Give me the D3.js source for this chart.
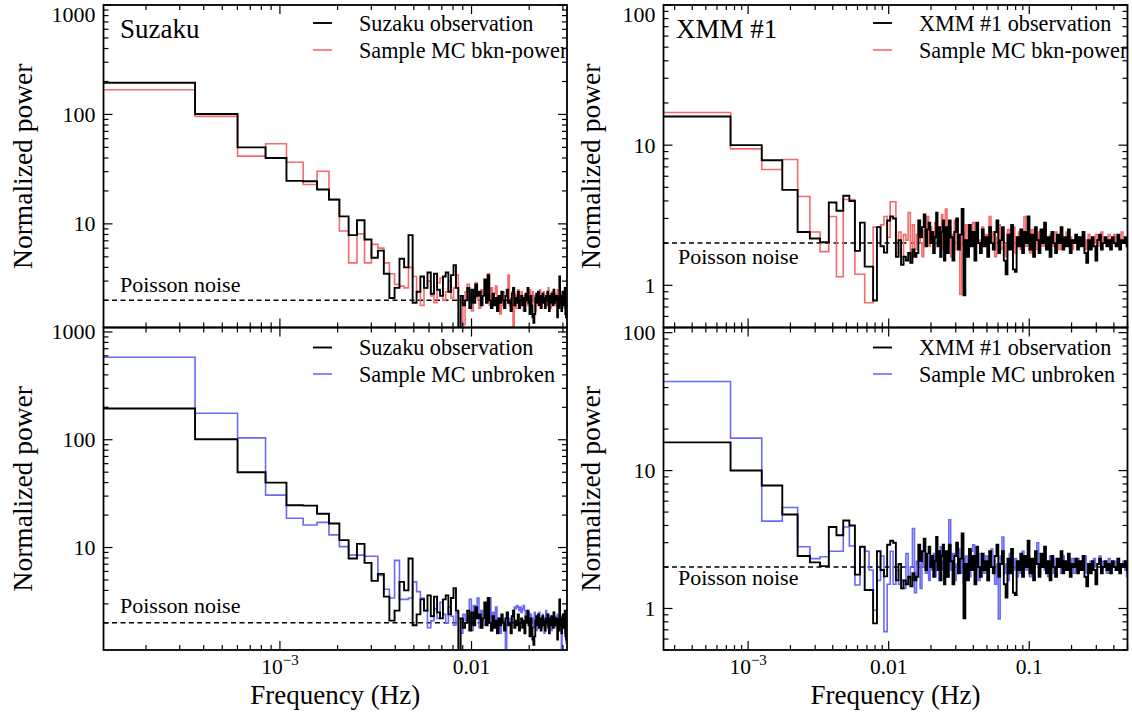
<!DOCTYPE html>
<html lang="en">
<head>
<meta charset="UTF-8">
<title>Power spectra: Suzaku and XMM #1</title>
<script src="https://d3js.org/d3.v7.min.js"></script>
<style>
  body { margin: 0; background: #fff; }
  svg text { font-family: "Liberation Serif", "Times New Roman", Tinos, "DejaVu Serif", "Noto Serif", serif; fill: #000; }
</style>
</head>
<body>
<svg width="1132" height="713" font-family="Liberation Serif, DejaVu Serif, serif"></svg>
<script>
// ---- data ----
// Suzaku: 130 Fourier frequencies k*df up to Nyquist (16 s bins)
const suzakuDf = 0.03125 / 130;
const suzakuFreq = d3.range(1, 131).map(k => k * suzakuDf);

const suzakuObs = [
  195, 101, 50, 40, 24.7, 24.5, 20.6, 16.7, 11.7, 7.9,
  10.8, 7.2, 4.9, 5.7, 3.5, 2.1, 2.6, 4.8, 4.0, 7.9,
  1.9, 2.4, 3.3, 2.6, 3.6, 2.3, 3.5, 2.5, 2.2, 3.3,
  3.6, 2.4, 3.4, 4.2, 2.6, 0.9, 2.2, 1.8, 2.0, 2.6,
  1.7, 2.5, 1.9, 2.8, 2.2, 2.4, 1.8, 2.2, 3.1, 1.9,
  3.4, 2.0, 1.7, 2.3, 1.8, 2.1, 1.6, 2.2, 1.9, 2.4,
  2.0, 1.7, 2.2, 2.5, 1.9, 2.0, 1.6, 2.3, 2.6, 1.8,
  2.1, 1.9, 2.4, 1.7, 2.0, 2.2, 1.8, 2.1, 1.6, 2.3,
  2.0, 2.6, 1.9, 1.5, 2.2, 1.8, 1.4, 1.25, 1.5, 2.1,
  2.3, 1.9, 2.4, 1.8, 2.2, 1.7, 2.0, 2.3, 1.9, 2.1,
  1.7, 2.2, 2.0, 2.4, 1.8, 1.6, 2.2, 1.9, 2.3, 2.1,
  1.8, 2.5, 1.9, 2.2, 2.0, 2.2, 1.4, 2.1, 1.7, 3.3,
  1.9, 2.2, 1.6, 2.0, 2.4, 1.8, 2.1, 2.6, 1.5, 1.4
];
const suzakuBkn = [
  168, 96, 41.6, 54, 36.6, 22.9, 30.3, 16.5, 8.6, 4.4,
  8.1, 4.4, 6.5, 6.0, 4.4, 3.5, 2.8, 2.7, 2.6, 4.0,
  3.3, 2.4, 1.8, 2.6, 3.0, 2.2, 1.9, 2.9, 3.2, 2.0,
  2.4, 3.0, 2.1, 2.6, 3.4, 2.0, 1.9, 1.2, 2.4, 2.8,
  2.2, 1.6, 2.4, 2.9, 2.1, 1.7, 2.5, 2.3, 2.4, 2.0,
  3.5, 1.8, 2.6, 1.9, 2.3, 2.7, 1.7, 2.0, 1.5, 1.8,
  2.4, 1.9, 2.2, 2.2, 3.4, 1.8, 2.1, 2.4, 1.0, 2.3,
  1.7, 2.2, 2.5, 2.0, 1.8, 2.4, 2.1, 1.6, 2.2, 1.9,
  2.3, 1.8, 2.0, 2.5, 1.7, 2.1, 2.4, 1.9, 2.2, 1.6,
  2.0, 2.3, 1.8, 2.1, 2.5, 2.0, 1.7, 2.2, 2.4, 1.9,
  2.1, 1.8, 2.3, 2.0, 2.6, 1.9, 2.2, 1.7, 2.0, 2.4,
  1.9, 2.2, 2.0, 1.8, 2.3, 2.1, 2.5, 1.9, 2.0, 2.2,
  1.8, 2.1, 2.4, 1.9, 2.2, 2.0, 1.7, 2.3, 2.1, 1.9
];
const suzakuUnb = [
  582, 176, 104, 30.6, 18.7, 16.2, 17.1, 13.1, 10.2, 8.5,
  8.5, 8.3, 8.3, 5.5, 4.1, 3.4, 7.6, 3.3, 3.3, 3.4,
  4.8, 3.9, 3.4, 2.6, 1.8, 2.1, 2.7, 2.2, 3.1, 2.4,
  2.0, 2.8, 2.3, 1.9, 2.5, 2.2, 1.6, 2.4, 2.1, 2.0,
  3.3, 1.7, 2.9, 2.2, 3.4, 1.8, 2.6, 2.1, 1.9, 2.7,
  2.3, 3.4, 1.7, 2.5, 2.0, 2.8, 1.8, 2.2, 1.6, 2.2,
  2.1, 1.8, 1.05, 2.4, 2.0, 2.2, 2.0, 2.3, 2.6, 2.8,
  2.7, 2.9, 2.8, 2.6, 2.8, 2.5, 2.7, 2.9, 2.6, 2.4,
  2.6, 2.3, 2.5, 2.1, 2.4, 2.0, 2.2, 1.8, 2.5, 2.1,
  1.7, 2.3, 2.0, 2.5, 1.9, 2.2, 1.8, 2.4, 2.0, 1.6,
  2.2, 2.6, 1.9, 2.1, 2.4, 1.8, 2.0, 2.3, 1.7, 2.2,
  2.0, 2.5, 1.8, 2.1, 2.3, 1.9, 2.4, 2.0, 1.7, 2.2,
  1.9, 2.3, 1.05, 1.8, 2.1, 2.4, 1.9, 1.6, 2.3, 1.3
];

// XMM #1: first 50 Fourier frequencies (df = 5e-4 Hz) one by one,
// above that the values are read at a pixel-sized log grid up to 0.5 Hz
const xmmDf = 0.0005;
const xmmLowFreq = d3.range(1, 51).map(k => k * xmmDf);
const xmmHighFreq = d3.range(100).map(i => 0.0256 * Math.pow(0.5 / 0.0256, i / 99));
const xmmFreq = xmmLowFreq.concat(xmmHighFreq);

const xmmObsLow = [
  16.0, 10.0, 7.8, 4.8, 2.4, 2.16, 2.03, 3.9, 3.4, 4.35,
  4.0, 1.76, 2.8, 1.36, 1.36, 0.78, 2.6, 1.9, 1.71, 2.9,
  3.1, 3.0, 1.6, 2.1, 1.4, 1.6, 1.5, 1.7, 1.45, 1.8,
  1.6, 1.7, 2.9, 2.2, 2.6, 3.2, 1.9, 2.5, 2.8, 2.0,
  2.4, 1.7, 2.2, 3.3, 1.9, 2.6, 1.6, 2.4, 2.9, 1.5
];
const xmmObsHigh = [
  2.6, 1.7, 2.9, 2.2, 1.5, 2.4, 3.0, 1.8, 2.3, 3.5,
  0.85, 2.1, 1.6, 2.7, 1.9, 2.4, 1.5, 2.8, 2.0, 1.7,
  2.5, 1.9, 2.2, 1.6, 2.6, 2.0, 1.8, 2.4, 2.9, 1.7,
  2.1, 2.6, 1.5, 1.2, 2.3, 1.8, 2.7, 1.3, 1.25, 2.2,
  1.9, 2.5, 1.7, 2.4, 2.0, 3.1, 1.8, 2.3, 1.6, 2.6,
  2.1, 1.7, 2.5, 2.0, 2.8, 1.8, 2.2, 1.6, 2.4, 2.0,
  1.7, 2.3, 2.0, 2.6, 1.8, 2.2, 1.9, 2.5, 1.7, 2.1,
  2.0, 2.3, 1.8, 2.2, 1.9, 2.4, 1.7, 1.45, 2.1, 1.8,
  2.2, 1.9, 1.5, 2.1, 2.3, 1.8, 2.0, 2.2, 1.9, 2.1,
  1.8, 2.2, 2.0, 1.9, 2.3, 1.8, 2.1, 2.0, 2.2, 1.9
];
const xmmBknLow = [
  17.1, 9.4, 6.7, 7.9, 4.3, 2.4, 1.74, 3.1, 1.15, 4.1,
  4.1, 1.2, 1.2, 0.75, 0.75, 2.6, 2.6, 2.7, 3.1, 2.2,
  3.95, 3.95, 1.7, 2.4, 1.6, 2.3, 2.1, 3.3, 1.5, 2.7,
  1.8, 2.3, 2.9, 2.0, 1.6, 2.5, 2.2, 3.1, 1.9, 2.6,
  2.0, 1.7, 2.8, 2.3, 1.9, 2.6, 2.2, 3.2, 1.8, 2.4
];
const xmmBknHigh = [
  3.5, 2.0, 2.6, 1.6, 2.3, 2.9, 1.8, 2.2, 0.86, 2.4,
  1.9, 2.7, 1.6, 2.3, 2.0, 2.8, 1.7, 2.4, 2.1, 1.8,
  2.6, 1.9, 2.3, 1.7, 3.1, 2.0, 2.4, 1.6, 2.2, 2.7,
  1.8, 2.3, 2.0, 1.6, 2.5, 2.1, 1.9, 2.6, 1.7, 2.2,
  2.4, 1.8, 2.1, 3.1, 1.9, 2.3, 1.7, 2.5, 2.0, 2.2,
  1.8, 2.4, 2.1, 1.9, 2.6, 2.0, 1.8, 2.3, 2.1, 1.9,
  2.4, 2.0, 1.8, 2.3, 2.1, 1.9, 2.4, 2.0, 2.2, 1.8,
  2.1, 2.3, 1.9, 2.2, 2.0, 2.4, 1.8, 2.1, 2.3, 1.9,
  2.2, 2.0, 2.3, 1.9, 2.1, 2.4, 2.0, 2.2, 1.9, 2.3,
  2.1, 2.0, 2.3, 1.9, 2.2, 2.1, 2.4, 2.0, 2.2, 2.1
];
const xmmUnbLow = [
  44.3, 17.2, 4.3, 5.4, 2.8, 2.3, 2.37, 2.6, 2.6, 3.9,
  2.84, 1.48, 2.8, 2.6, 1.9, 0.97, 1.6, 2.4, 0.68, 1.5,
  2.6, 1.5, 1.9, 1.5, 1.6, 1.4, 2.5, 1.7, 2.0, 3.8,
  1.3, 2.2, 2.1, 1.4, 2.6, 2.0, 1.8, 2.4, 1.6, 2.2,
  1.9, 2.5, 1.7, 2.3, 2.0, 1.6, 2.8, 1.9, 2.2, 2.4
];
const xmmUnbHigh = [
  2.2, 1.7, 4.4, 1.9, 2.5, 1.6, 2.1, 2.7, 1.8, 2.3,
  1.5, 2.4, 2.0, 1.7, 2.6, 2.9, 1.9, 2.2, 1.6, 2.5,
  2.0, 1.8, 2.4, 1.6, 2.2, 2.7, 1.9, 1.5, 2.1, 0.84,
  2.4, 3.3, 1.8, 2.1, 1.6, 2.5, 2.0, 1.9, 2.3, 1.7,
  2.2, 1.8, 2.6, 2.0, 1.9, 2.4, 1.7, 2.2, 2.0, 2.5,
  3.0, 1.8, 2.1, 2.3, 1.9, 2.2, 1.7, 2.4, 2.0, 1.8,
  2.3, 2.0, 2.2, 1.8, 2.4, 2.1, 1.9, 2.2, 2.0, 2.3,
  1.8, 2.1, 2.3, 1.9, 2.2, 2.0, 2.4, 1.8, 2.1, 2.2,
  1.9, 2.3, 2.0, 2.1, 2.4, 1.9, 2.2, 2.0, 1.8, 2.3,
  2.1, 2.0, 2.2, 1.9, 2.3, 2.0, 2.1, 2.2, 1.9, 1.7
];
const xmmObs = xmmObsLow.concat(xmmObsHigh);
const xmmBkn = xmmBknLow.concat(xmmBknHigh);
const xmmUnb = xmmUnbLow.concat(xmmUnbHigh);

const poissonLevel = 2;

// ---- layout ----
const red = "#f66a6a";
const blue = "#6a6af6";
const cols = [{ left: 103.5, width: 463.5 }, { left: 663.5, width: 464 }];
const rows = [{ top: 5, height: 322.5 }, { top: 327.5, height: 322.5 }];

const panels = [
  { col: 0, row: 0, freq: suzakuFreq, obs: suzakuObs, mc: suzakuBkn, mcColor: red,
    xDomain: [1.2e-4, 0.0315], yDomain: [1.13, 1000], xMajors: [1e-3, 1e-2],
    title: "Suzaku", obsLabel: "Suzaku observation", mcLabel: "Sample MC bkn-power", noiseDy: -8.5 },
  { col: 0, row: 1, freq: suzakuFreq, obs: suzakuObs, mc: suzakuUnb, mcColor: blue,
    xDomain: [1.2e-4, 0.0315], yDomain: [1.12, 1100], xMajors: [1e-3, 1e-2],
    title: null, obsLabel: "Suzaku observation", mcLabel: "Sample MC unbroken", noiseDy: -9.5 },
  { col: 1, row: 0, freq: xmmFreq, obs: xmmObs, mc: xmmBkn, mcColor: red,
    xDomain: [2.5e-4, 0.5], yDomain: [0.5, 100], xMajors: [1e-3, 1e-2, 1e-1],
    title: "XMM #1", obsLabel: "XMM #1 observation", mcLabel: "Sample MC bkn-power", noiseDy: 21 },
  { col: 1, row: 1, freq: xmmFreq, obs: xmmObs, mc: xmmUnb, mcColor: blue,
    xDomain: [2.5e-4, 0.5], yDomain: [0.5, 109], xMajors: [1e-3, 1e-2, 1e-1],
    title: null, obsLabel: "XMM #1 observation", mcLabel: "Sample MC unbroken", noiseDy: 18 }
];

const svg = d3.select("svg");

// turn bin centres into a step outline (edges half way between frequencies)
function stepPoints(freq, power) {
  const n = freq.length;
  const pts = [];
  for (let i = 0; i < n; i++) {
    const lo = i === 0 ? freq[0] - (freq[1] - freq[0]) / 2 : (freq[i - 1] + freq[i]) / 2;
    const hi = i === n - 1 ? freq[i] + (freq[i] - freq[i - 1]) / 2 : (freq[i] + freq[i + 1]) / 2;
    pts.push([lo, power[i]], [hi, power[i]]);
  }
  return pts;
}

function logTicks(domain) {
  const out = [];
  for (let e = Math.floor(Math.log10(domain[0])); e <= Math.ceil(Math.log10(domain[1])); e++) {
    for (let m = 1; m <= 9; m++) {
      const v = m * Math.pow(10, e);
      if (v >= domain[0] * 0.9999 && v <= domain[1] * 1.0001) out.push({ v: v, major: m === 1 });
    }
  }
  return out;
}

function yLabel(v) {
  return v >= 1 ? String(Math.round(v)) : String(v);
}

panels.forEach((p, idx) => {
  const c = cols[p.col], r = rows[p.row];
  const x0 = c.left, x1 = c.left + c.width, y0 = r.top, y1 = r.top + r.height;

  const x = d3.scaleLog().domain(p.xDomain).range([x0, x1]);
  const y = d3.scaleLog().domain(p.yDomain).range([y1, y0]);

  const clipId = "clip" + idx;
  svg.append("clipPath").attr("id", clipId)
    .append("rect").attr("x", x0).attr("y", y0).attr("width", c.width).attr("height", r.height);

  const plot = svg.append("g").attr("clip-path", `url(#${clipId})`);
  const line = d3.line().x(d => x(d[0])).y(d => y(d[1]));

  // Poisson noise level
  plot.append("line")
    .attr("x1", x0).attr("x2", x1)
    .attr("y1", y(poissonLevel)).attr("y2", y(poissonLevel))
    .attr("stroke", "#000").attr("stroke-width", 1.5).attr("stroke-dasharray", "5,3.5");

  plot.append("path")
    .attr("d", line(stepPoints(p.freq, p.mc)))
    .attr("fill", "none").attr("stroke", p.mcColor).attr("stroke-width", 1.6);

  plot.append("path")
    .attr("d", line(stepPoints(p.freq, p.obs)))
    .attr("fill", "none").attr("stroke", "#000").attr("stroke-width", 1.9);

  // ticks on all four sides, pointing inwards
  const tg = svg.append("g").attr("stroke", "#000").attr("stroke-width", 1.2);
  logTicks(p.yDomain).forEach(t => {
    const len = t.major ? 9 : 5;
    const yy = y(t.v);
    tg.append("line").attr("x1", x0).attr("x2", x0 + len).attr("y1", yy).attr("y2", yy);
    tg.append("line").attr("x1", x1).attr("x2", x1 - len).attr("y1", yy).attr("y2", yy);
  });
  logTicks(p.xDomain).forEach(t => {
    const len = t.major ? 9 : 5;
    const xx = x(t.v);
    tg.append("line").attr("x1", xx).attr("x2", xx).attr("y1", y1).attr("y2", y1 - len);
    tg.append("line").attr("x1", xx).attr("x2", xx).attr("y1", y0).attr("y2", y0 + len);
  });

  // frame
  svg.append("rect")
    .attr("x", x0).attr("y", y0).attr("width", c.width).attr("height", r.height)
    .attr("fill", "none").attr("stroke", "#000").attr("stroke-width", 1.8);

  // y tick labels
  logTicks(p.yDomain).filter(t => t.major).forEach(t => {
    let yc = y(t.v);
    if (p.row === 0) yc = Math.max(yc, y0 + 9);
    svg.append("text")
      .attr("x", x0 - 8).attr("y", yc + 7.5)
      .attr("text-anchor", "end").attr("font-size", 22)
      .text(yLabel(t.v));
  });

  // x tick labels and axis title only under the lower panels
  if (p.row === 1) {
    p.xMajors.forEach(v => {
      const t = svg.append("text")
        .attr("x", x(v)).attr("y", y1 + 24)
        .attr("text-anchor", "middle").attr("font-size", 21.5);
      if (v === 1e-3) {
        t.append("tspan").text("10");
        t.append("tspan").attr("font-size", 15).attr("dy", -9).text("\u22123");
      } else {
        t.text(String(v));
      }
    });
    svg.append("text")
      .attr("x", (x0 + x1) / 2).attr("y", y1 + 54)
      .attr("text-anchor", "middle").attr("font-size", 27)
      .text("Frequency (Hz)");
  }

  // y axis title
  const ylx = p.col === 0 ? 32 : 600;
  svg.append("text")
    .attr("transform", `translate(${ylx},${(y0 + y1) / 2}) rotate(-90)`)
    .attr("text-anchor", "middle").attr("font-size", 27.5)
    .text("Normalized power");

  // panel title
  if (p.title) {
    svg.append("text")
      .attr("x", x0 + (p.col === 0 ? 16.5 : 12.5)).attr("y", y0 + 33)
      .attr("font-size", 27)
      .text(p.title);
  }

  // legend
  const legX = p.col === 0 ? 313 : 873;
  const legY = p.row === 0 ? [y0 + 18, y0 + 45] : [y0 + 20, y0 + 46.5];
  [[p.obsLabel, "#000", 1.9], [p.mcLabel, p.mcColor, 1.6]].forEach((e, i) => {
    svg.append("line")
      .attr("x1", legX).attr("x2", legX + 19)
      .attr("y1", legY[i]).attr("y2", legY[i])
      .attr("stroke", e[1]).attr("stroke-width", e[2]);
    svg.append("text")
      .attr("x", legX + 46).attr("y", legY[i] + 7.5)
      .attr("font-size", 22.2)
      .text(e[0]);
  });

  // Poisson noise label
  svg.append("text")
    .attr("x", x0 + (p.col === 0 ? 16.5 : 14.5)).attr("y", y(poissonLevel) + p.noiseDy)
    .attr("font-size", 22)
    .text("Poisson noise");
});
</script>
</body>
</html>
